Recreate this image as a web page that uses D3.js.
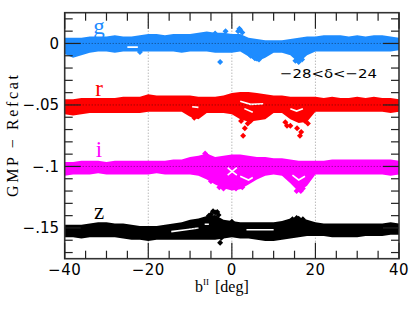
<!DOCTYPE html>
<html><head><meta charset="utf-8">
<script src="https://cdn.jsdelivr.net/npm/d3@7"></script>
<style>body{margin:0;background:#fff}svg{display:block}</style>
</head><body><svg id="c" width="415" height="312"></svg>
<script>
// ---------- data ----------
const xSamples = [-40,-38,-36,-34,-32,-30,-28,-26,-24,-22,-20,-18,-16,-14,-12,-10,-8,-6,-4,-2,0,2,4,6,8,10,12,14,16,18,20,22,24,26,28,30,32,34,36,38,40];
const bandNames = ["g","r","i","z"];
const bandCenters = [0,-0.05,-0.1,-0.15];
const bandColors = ["#1e8cff","#ff0000","#ff00ff","#000000"];
// envelopes, offsets from band centre in units of 0.001
const gUpper = [3,3,3,4,4,4,5,4,4,5,6,6,5,6,6,6,7,8,7,7,6,6,3,2,1,1,1,2,3,4,4,5,5,5,4,5,4,5,5,4,3];
const gLower = [-7,-10,-8,-6,-5,-5,-6,-5,-5,-5,-5,-5,-5,-5,-6,-5,-5,-5,-6,-6,-6,-5,-9,-13,-10,-6,-6,-8,-14,-8,-5,-5,-5,-5,-5,-5,-5,-5,-5,-5,-4];
const rUpper = [3,3,4,4,4,4,4,5,5,5,7,6,6,6,6,6,5,5,5,6,8,9,9,8,7,6,6,5,5,5,5,4,5,4,4,5,4,5,4,4,3];
const rLower = [-6,-7,-6,-5,-5,-5,-5,-5,-5,-5,-4,-4,-4,-4,-4,-8,-10,-5,-5,-5,-6,-10,-12,-11,-10,-5,-5,-10,-13,-12,-4,-4,-4,-4,-4,-4,-4,-4,-4,-5,-4];
const iUpper = [2,2,3,3,3,2,3,3,3,3,3,3,3,4,4,6,7,9,6,7,8,8,7,6,6,5,5,4,3,3,3,3,4,4,4,4,4,4,4,4,3];
const iLower = [-6,-5,-5,-5,-4,-5,-5,-5,-5,-5,-5,-4,-5,-5,-5,-5,-6,-9,-13,-16,-18,-17,-13,-9,-6,-5,-6,-12,-19,-14,-5,-5,-5,-5,-5,-5,-5,-5,-5,-6,-5];
const zUpper = [1,1,1,2,3,3,2,2,1,0,0,0,1,2,3,5,6,8,9,5,4,3,3,3,3,3,4,6,7,5,3,2,2,2,2,2,2,2,2,3,2];
const zLower = [-6,-6,-7,-6,-6,-6,-6,-7,-8,-8,-9,-8,-8,-8,-8,-8,-8,-8,-8,-7,-6,-7,-7,-8,-9,-9,-8,-7,-6,-5,-5,-5,-6,-6,-6,-6,-5,-5,-5,-4,-4];
// isolated / structure points: [deg, offset*1000]
const gExtra = [[-1.5,10],[-2.8,-15],[1.5,10],[2,11],[2.5,9],[1.8,12],[5.5,-12],[6.5,-13],[4.5,-10],[15.2,-14],[16,-15],[16.8,-13],[-4,8],[-22,-7]];
const rExtra = [[2.7,-25],[3.1,-19],[3.8,-15],[2.2,-13],[4.5,-13],[16.3,-25],[16.6,-22],[15.6,-19],[13.2,-17],[14,-17],[18.2,-15],[17.5,-13],[12.8,-14],[-9,-10.5]];
const iExtra = [[-6.4,10.5],[-6,9],[-3,-17],[-2,-18],[1,-18],[2.5,-17],[15.5,-20],[16.5,-20],[17,-18],[-5,-12]];
const zExtra = [[-4.5,13.5],[-4,12.5],[-3.5,13],[-5,11],[-5.5,10],[-3.2,10.5],[-2.8,-12],[-2.5,-8],[0,5],[15.5,8],[16,7.5],[17,7],[14.5,7]];
// white gaps inside the bands: polylines [deg, offset*1000]
const gGaps = [[[-25,-3],[-22.5,-3]]];
const rGaps = [[[2,3],[4.5,0.5],[7.5,1]],[[3,-3],[5,-6]],[[14,-3],[15.5,-5],[17,-3]],[[-9.5,-1.5],[-8,-2]]];
const iGaps = [[[-1,-1],[0,-4],[1.2,-7]],[[-1,-7],[1.2,-1]],[[2,-8],[4,-11],[5,-9]],[[14.5,-7],[16,-11],[17.5,-8]]];
const zGaps = [[[-14.5,-3],[-11,-1.5],[-8,0]],[[3.5,-1.5],[7,-1.5],[10,-1.5]],[[-6.5,3],[-5.5,3]]];
const xTicksMajor = [-40,-20,0,20,40];
const yTicksMajor = [0,-0.05,-0.1,-0.15];
const yTickLabels = ["0","\u2212.05","\u2212.1","\u2212.15"];
const gridX = [-20,0,20];

const bands = [
  {up:gUpper, lo:gLower, extra:gExtra, gaps:gGaps},
  {up:rUpper, lo:rLower, extra:rExtra, gaps:rGaps},
  {up:iUpper, lo:iLower, extra:iExtra, gaps:iGaps},
  {up:zUpper, lo:zLower, extra:zExtra, gaps:zGaps}
];

// ---------- layout ----------
const svg = d3.select("#c");
const L=64.7, R=399, T=12.7, B=258.7;
const x = d3.scaleLinear().domain([-40,40]).range([L,R]);
const y = d3.scaleLinear().domain([-0.175,0.025]).range([B,T]);

svg.append("clipPath").attr("id","pc").append("rect")
  .attr("x",L).attr("y",T).attr("width",R-L).attr("height",B-T);

// vertical dotted grid
svg.append("g").selectAll("line").data(gridX).join("line")
  .attr("x1",d=>x(d)).attr("x2",d=>x(d)).attr("y1",T).attr("y2",B)
  .attr("stroke","#9a9a9a").attr("stroke-width",1).attr("stroke-dasharray","1,2");

const diamond = r => `M0,${-r}L${r},0L0,${r}L${-r},0Z`;
const plot = svg.append("g").attr("clip-path","url(#pc)");

bands.forEach((b,k)=>{
  const c = bandCenters[k], col = bandColors[k];
  const pts = xSamples.map((xv,i)=>({x:xv, u:c+b.up[i]/1000, l:c+b.lo[i]/1000}));
  const g = plot.append("g");
  g.append("path").datum(pts)
    .attr("d", d3.area().x(d=>x(d.x)).y0(d=>y(d.l)+2).y1(d=>y(d.u)-2))
    .attr("fill",col);
  const r=3;
  g.selectAll("path.u").data(pts).join("path").attr("class","u")
    .attr("transform",d=>`translate(${x(d.x)},${y(d.u)+r-0.5})`).attr("d",diamond(r)).attr("fill",col);
  g.selectAll("path.l").data(pts).join("path").attr("class","l")
    .attr("transform",d=>`translate(${x(d.x)},${y(d.l)-r+0.5})`).attr("d",diamond(r)).attr("fill",col);
  g.selectAll("path.e").data(b.extra).join("path").attr("class","e")
    .attr("transform",d=>`translate(${x(d[0])},${y(c+d[1]/1000)})`).attr("d",diamond(3)).attr("fill",col);
  const line = d3.line().x(d=>x(d[0])).y(d=>y(c+d[1]/1000));
  g.selectAll("path.gap").data(b.gaps).join("path").attr("class","gap")
    .attr("d",line).attr("fill","none").attr("stroke","#fff").attr("stroke-width",1.6);
});

// horizontal dotted lines at band centres (on top)
svg.append("g").selectAll("line").data(yTicksMajor).join("line")
  .attr("x1",L).attr("x2",R).attr("y1",d=>y(d)).attr("y2",d=>y(d))
  .attr("stroke","#000").attr("stroke-opacity",0.5).attr("stroke-width",1).attr("stroke-dasharray","1,2");

// frame
svg.append("rect").attr("x",L).attr("y",T).attr("width",R-L).attr("height",B-T)
  .attr("fill","none").attr("stroke","#333").attr("stroke-width",1.6);

// ticks
const xMinor = d3.range(-40,40.01,5).filter(v=>!xTicksMajor.includes(v));
const yMinor = d3.range(-0.17,0.021,0.01).filter(v=>!yTicksMajor.some(m=>Math.abs(m-v)<1e-6));
const tk = svg.append("g").attr("stroke","#222").attr("stroke-width",1.2);
xMinor.forEach(v=>{
  tk.append("line").attr("x1",x(v)).attr("x2",x(v)).attr("y1",B).attr("y2",B-8);
  tk.append("line").attr("x1",x(v)).attr("x2",x(v)).attr("y1",T).attr("y2",T+8);
});
xTicksMajor.forEach(v=>{
  tk.append("line").attr("x1",x(v)).attr("x2",x(v)).attr("y1",B).attr("y2",B-16);
  tk.append("line").attr("x1",x(v)).attr("x2",x(v)).attr("y1",T).attr("y2",T+16);
});
yMinor.forEach(v=>{
  tk.append("line").attr("x1",L).attr("x2",L+8).attr("y1",y(v)).attr("y2",y(v));
  tk.append("line").attr("x1",R).attr("x2",R-8).attr("y1",y(v)).attr("y2",y(v));
});
yTicksMajor.forEach(v=>{
  tk.append("line").attr("x1",L).attr("x2",L+16).attr("y1",y(v)).attr("y2",y(v));
  tk.append("line").attr("x1",R).attr("x2",R-16).attr("y1",y(v)).attr("y2",y(v));
});

// tick labels
const numFont = "'DejaVu Sans', sans-serif";
svg.append("g").selectAll("text").data(xTicksMajor).join("text")
  .attr("x",d=>x(d)).attr("y",275).attr("text-anchor","middle")
  .attr("font-family",numFont).attr("font-size",15).attr("letter-spacing",0.5)
  .text(d=>d3.format("d")(d));
svg.append("g").selectAll("text").data(yTicksMajor).join("text")
  .attr("x",59).attr("y",d=>y(d)+5.5).attr("text-anchor","end")
  .attr("font-family",numFont).attr("font-size",15)
  .text((d,i)=>yTickLabels[i]);

// axis titles
svg.append("text").attr("transform","translate(18,136) rotate(-90)")
  .attr("text-anchor","middle").attr("font-family","'Liberation Serif', serif").attr("font-size",16)
  .attr("textLength",122).attr("lengthAdjust","spacing").text("GMP \u2212 Refcat");
const xt = svg.append("text").attr("x",195).attr("y",292)
  .attr("font-family","'Liberation Serif', serif").attr("font-size",16);
xt.append("tspan").text("b");
xt.append("tspan").attr("dy",-7).attr("font-size",9).text("II");
xt.append("tspan").attr("dy",7).attr("dx",6).text("[deg]");

// band labels
svg.append("g").selectAll("text").data(bandNames).join("text")
  .attr("x",99).attr("y",(d,i)=>y(bandCenters[i])-9).attr("text-anchor","middle")
  .attr("font-family","'Liberation Serif', serif").attr("font-size",23)
  .attr("fill",(d,i)=>bandColors[i]).text(d=>d);

// annotation
svg.append("text").attr("x",280).attr("y",78)
  .attr("font-family",numFont).attr("font-size",13)
  .attr("textLength",97).attr("lengthAdjust","spacingAndGlyphs")
  .text("\u221228<\u03b4<\u221224");
</script></body></html>
